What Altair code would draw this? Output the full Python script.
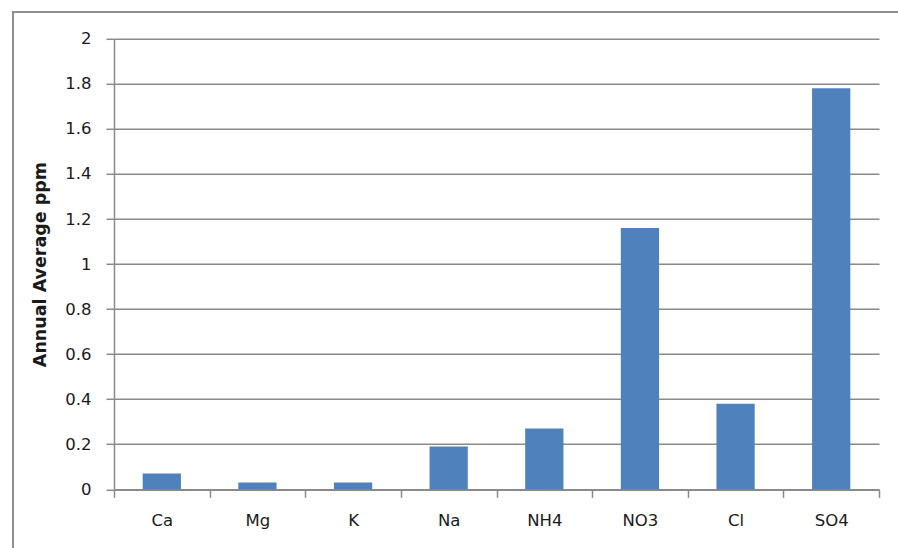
import altair as alt
import pandas as pd

# Annual average ion concentrations (ppm)
ions = ["Ca", "Mg", "K", "Na", "NH4", "NO3", "Cl", "SO4"]
ppm = [0.07, 0.03, 0.03, 0.19, 0.27, 1.16, 0.38, 1.78]
y_ticks = [0, 0.2, 0.4, 0.6, 0.8, 1.0, 1.2, 1.4, 1.6, 1.8, 2.0]

df = pd.DataFrame({"ion": ions, "ppm": ppm})

W, H = 765, 450.5
PAD_L, PAD_T = 114, 38.8
GRID = "#8a8a8a"
FONT = "DejaVu Sans"

# Full-width category bands so the tick marks sit on the category boundaries;
# each bar fills 40% of its band, centred.
bars = alt.Chart(df).mark_bar(color="#4F81BD", width={"band": 0.4}).encode(
    x=alt.X(
        "ion:N",
        sort=ions,
        scale=alt.Scale(paddingInner=0, paddingOuter=0),
        axis=alt.Axis(
            title=None,
            labelAngle=0,
            labelFont=FONT,
            labelFontSize=16.5,
            labelColor="#1a1a1a",
            labelPadding=15,
            ticks=True,
            tickBand="extent",
            tickSize=8,
            tickColor=GRID,
            tickWidth=1.5,
            domainColor=GRID,
            domainWidth=1.5,
            grid=False,
        ),
    ),
    y=alt.Y(
        "ppm:Q",
        scale=alt.Scale(domain=[0, 2], nice=False),
        axis=alt.Axis(
            title="Annual Average ppm",
            titleFont=FONT,
            titleFontSize=17.5,
            titleFontWeight="bold",
            titleColor="#1a1a1a",
            titlePadding=15,
            values=y_ticks,
            format=".1~f",
            labelFont=FONT,
            labelFontSize=16.5,
            labelColor="#1a1a1a",
            labelPadding=15,
            tickSize=8,
            tickColor=GRID,
            tickWidth=1.5,
            domainColor=GRID,
            domainWidth=1.5,
            grid=True,
            gridColor=GRID,
            gridWidth=1.5,
        ),
    ),
)

# Outer chart frame (left and top edges visible)
frame = alt.Chart(df).mark_rect(
    fill=None, stroke="#8f8f8f", strokeWidth=1.5, clip=False
).encode(
    x=alt.value(13 - PAD_L),
    x2=alt.value(900 - PAD_L),
    y=alt.value(12 - PAD_T),
    y2=alt.value(560 - PAD_T),
)

chart = (
    alt.layer(bars, frame)
    .properties(
        width=W,
        height=H,
        autosize=alt.AutoSizeParams(type="none"),
        padding={"left": PAD_L, "top": PAD_T, "right": 898 - PAD_L - W, "bottom": 548 - PAD_T - H},
        background="white",
    )
    .configure_view(stroke=None)
)

chart.save("out.html", embed_options={"renderer": "svg", "actions": False})
